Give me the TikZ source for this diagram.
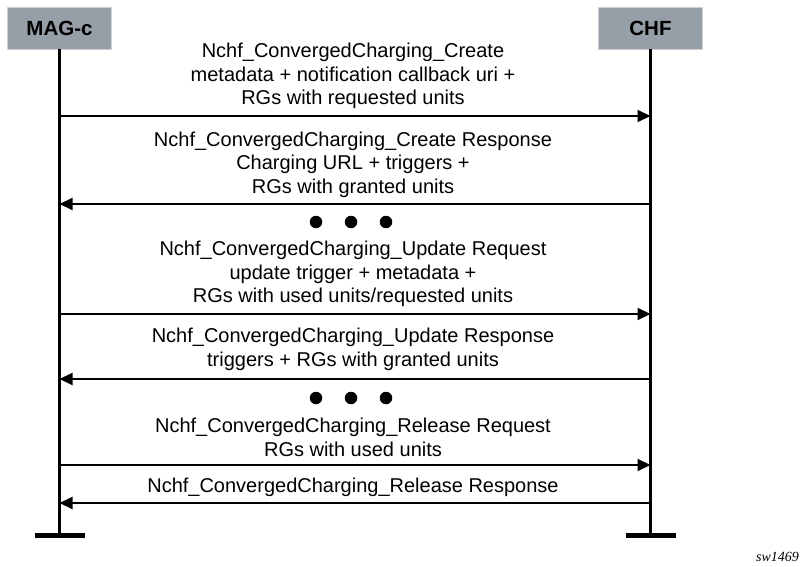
\documentclass[tikz,border=0pt]{standalone}
\usepackage{fontspec}
\setmainfont{Liberation Sans}
\newfontfamily\tagfont{Liberation Serif}
\usepackage{xcolor}
\usetikzlibrary{arrows.meta}
\definecolor{boxgray}{RGB}{150,158,168}
\definecolor{boxedge}{RGB}{206,210,215}
\tikzstyle{entity} = [rectangle, draw=boxedge, line width=0.8pt, fill=boxgray, minimum width=104pt, minimum height=42pt, font=\fontsize{20.5}{23}\selectfont\bfseries]
\tikzstyle{msg} = [align=center, inner sep=0pt, font=\fontsize{20}{23.5}\selectfont]
\tikzstyle{dot} = [circle, fill=black, inner sep=0pt, minimum size=12.5pt]
\tikzstyle{life} = [draw, line width=2.3pt]
\tikzstyle{foot} = [draw, line width=5pt]
\tikzstyle{line} = [draw, line width=2pt, -{Triangle[length=13pt,width=12pt]}]

\begin{document}
\begin{tikzpicture}[x=1pt, y=-1pt]
        \useasboundingbox (0, 0) rectangle (801, 567);
        % Place nodes
        \node at (59.5, 28) [entity] (mag) {MAG-c};
        \node at (650.5, 28) [entity] (chf) {CHF};
        \coordinate (magend) at (59.5, 535);
        \coordinate (chfend) at (650.5, 535);
        \node at (353, 76) [msg] (txt1) {Nchf\_ConvergedCharging\_Create\\metadata + notification callback uri +\\RGs with requested units};
        \node at (353, 164.5) [msg] (txt2) {Nchf\_ConvergedCharging\_Create Response\\Charging URL + triggers +\\RGs with granted units};
        \node at (316, 222) [dot] (dotA1) {};
        \node at (351, 222) [dot] (dotA2) {};
        \node at (386, 222) [dot] (dotA3) {};
        \node at (353, 274) [msg] (txt3) {Nchf\_ConvergedCharging\_Update Request\\update trigger + metadata +\\RGs with used units/requested units};
        \node at (353, 349.5) [msg] (txt4) {Nchf\_ConvergedCharging\_Update Response\\triggers + RGs with granted units};
        \node at (316, 398) [dot] (dotB1) {};
        \node at (351, 398) [dot] (dotB2) {};
        \node at (386, 398) [dot] (dotB3) {};
        \node at (353, 437.5) [msg] (txt5) {Nchf\_ConvergedCharging\_Release Request\\RGs with used units};
        \node at (353, 487) [msg] (txt6) {Nchf\_ConvergedCharging\_Release Response};
        \node at (756, 557) [anchor=west, inner sep=0pt, font=\tagfont\itshape\fontsize{14}{16}\selectfont] (tag) {sw1469};

        % Message ends on the lifelines
        \coordinate (m1a) at (59.5, 116);  \coordinate (m1b) at (650.5, 116);
        \coordinate (m2a) at (59.5, 204);  \coordinate (m2b) at (650.5, 204);
        \coordinate (m3a) at (59.5, 314);  \coordinate (m3b) at (650.5, 314);
        \coordinate (m4a) at (59.5, 379);  \coordinate (m4b) at (650.5, 379);
        \coordinate (m5a) at (59.5, 465);  \coordinate (m5b) at (650.5, 465);
        \coordinate (m6a) at (59.5, 503);  \coordinate (m6b) at (650.5, 503);

        % Draw lifelines
        \path [life] (mag.south) -- (magend);
        \path [life] (chf.south) -- (chfend);
        \path [foot] ([xshift=-25pt]magend) -- ([xshift=25pt]magend);
        \path [foot] ([xshift=-25pt]chfend) -- ([xshift=25pt]chfend);

        % Draw edges
        \path [line] (m1a) -- (m1b);
        \path [line] (m2b) -- (m2a);
        \path [line] (m3a) -- (m3b);
        \path [line] (m4b) -- (m4a);
        \path [line] (m5a) -- (m5b);
        \path [line] (m6b) -- (m6a);
    \end{tikzpicture}
\end{document}
